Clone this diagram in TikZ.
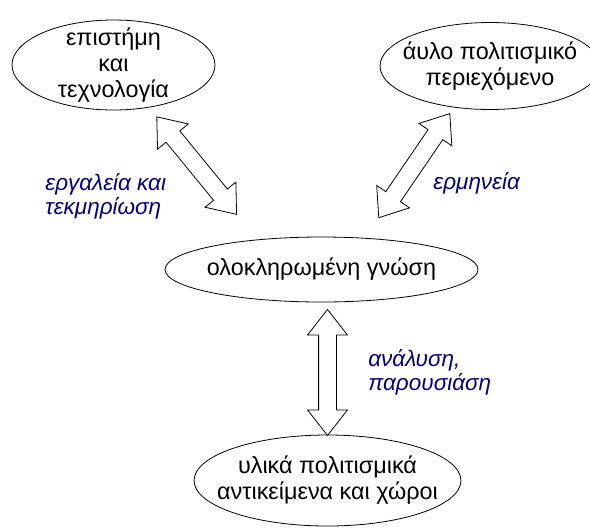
\documentclass[tikz,border=0pt]{standalone}
\usepackage{fontspec}
\setmainfont{Liberation Sans}
\usepackage{tikz}
\usetikzlibrary{shapes.geometric,shapes.arrows}
\definecolor{notecolor}{RGB}{0,0,128}

\begin{document}
\begin{tikzpicture}[
        x=0.5pt, y=-0.5pt,
        font=\fontsize{11.7}{13}\selectfont,
        topic/.style={ellipse,draw=black,fill=white,inner sep=-8pt,align=center},
        link/.style={double arrow,draw=black,fill=white,inner xsep=0pt,inner ysep=4.25pt,
            minimum height=63pt,double arrow head extend=5.5pt,double arrow tip angle=76,sloped},
        note/.style={text=notecolor,font=\fontsize{11.25}{12}\selectfont\itshape,
            align=left,anchor=west,inner sep=0pt}
    ]
    \useasboundingbox (0,0) rectangle (590,527);
    % the four themes
    \node[topic,minimum width=101.5pt,minimum height=45pt] (sci) at (113.5,65) {επιστήμη\\και\\τεχνολογία};
    \node[topic,minimum width=110pt,minimum height=43.5pt] (heritage) at (490,66) {άυλο πολιτισμικό\\περιεχόμενο};
    \node[topic,minimum width=156.5pt,minimum height=32.5pt] (know) at (321.5,269.5) {ολοκληρωμένη γνώση};
    \node[topic,minimum width=130.5pt,minimum height=45.5pt] (objects) at (327.5,480.5) {υλικά πολιτισμικά\\αντικείμενα και χώροι};
    % arrows between them
    \path (sci.-50) -- (know.155) node[link,pos=0.44] {};
    \path (know.36) -- (heritage.-131) node[link,pos=0.554] {};
    \path (objects.north) -- (objects.north |- know.south) node[link,pos=0.47] {};
    % labels
    \node[note] (tools) at (45,196.5) {εργαλεία και\\τεκμηρίωση};
    \node[note] (interp) at (433,183) {ερμηνεία};
    \node[note] (analysis) at (368,372.5) {ανάλυση,\\παρουσιάση};
\end{tikzpicture}
\end{document}
